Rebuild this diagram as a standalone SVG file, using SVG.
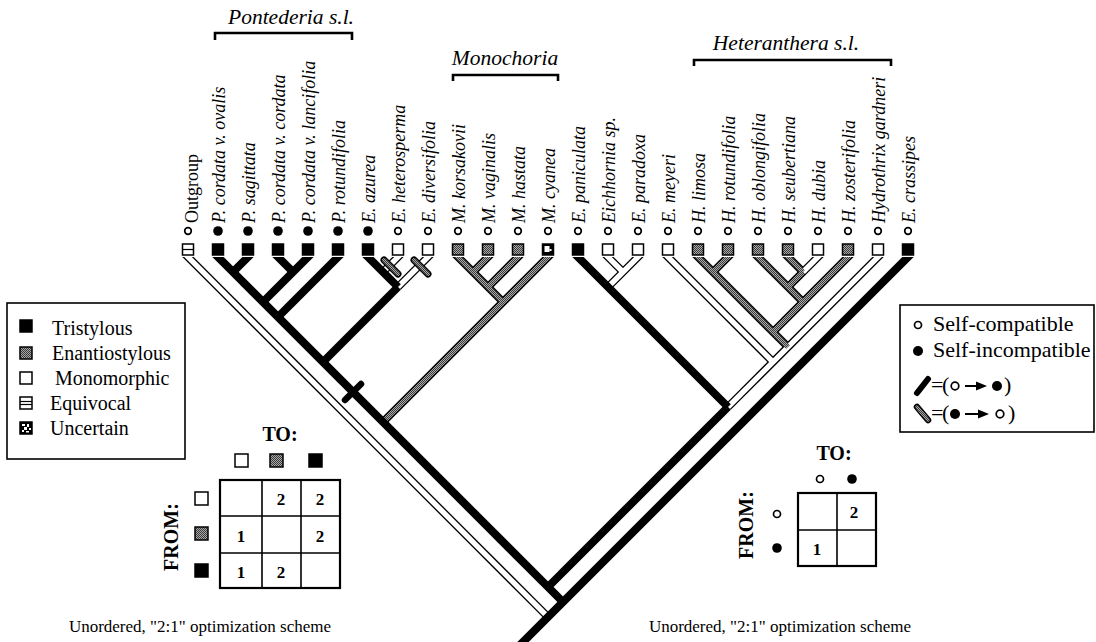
<svg xmlns="http://www.w3.org/2000/svg" width="1096" height="642" viewBox="0 0 1096 642">
<defs>
  <pattern id="stip" width="2" height="2" patternUnits="userSpaceOnUse">
    <rect width="2" height="2" fill="#a8a8a8"/>
    <rect width="1" height="1" fill="#3a3a3a"/>
    <rect x="1" y="1" width="1" height="1" fill="#3a3a3a"/>
  </pattern>
  <clipPath id="treeClip"><rect x="0" y="257" width="1096" height="385"/></clipPath>
</defs>
<style>
  text{font-family:"Liberation Serif","Times New Roman",serif;fill:#000}
  .tax{font-size:18px;font-style:italic}
  .rom{font-size:18px}
  .clade{font-size:21.5px;font-style:italic}
  .leg{font-size:20px}
  .leg2{font-size:22px}
  .hd{font-weight:bold;font-size:20px}
  .num{font-weight:bold;font-size:17px;text-anchor:middle}
  .cap{font-size:17px;text-anchor:middle}
  .bk{stroke:#000;stroke-width:8;fill:none}
  .ol{stroke:#000;stroke-width:8;fill:none}
  .wh{stroke:#fff;stroke-width:5.4;fill:none}
  .st{stroke:url(#stip);stroke-width:5.2;fill:none}
  .sq{stroke:#000;stroke-width:1.5}
  .w{fill:#fff}
  .b{fill:#000}
  .s{fill:url(#stip)}
  .oc{fill:#fff;stroke:#000;stroke-width:1.7}
  .fc{fill:#000}
  .box{fill:none;stroke:#000;stroke-width:1.6}
  .br{fill:none;stroke:#000;stroke-width:2.6}
  .grid{fill:none;stroke:#000;stroke-width:1.6}
</style>
<rect width="1096" height="642" fill="#fff"/>

<!-- clade brackets -->
<g id="clade-pontederia">
  <text class="clade" x="291" y="24" text-anchor="middle">Pontederia s.l.</text>
  <path class="br" d="M215,40 V33 H352 V40"/>
</g>
<g id="clade-monochoria">
  <text class="clade" x="505" y="65" text-anchor="middle">Monochoria</text>
  <path class="br" d="M453,81 V75 H558 V81"/>
</g>
<g id="clade-heteranthera">
  <text class="clade" x="786" y="50" text-anchor="middle">Heteranthera s.l.</text>
  <path class="br" d="M694,66 V60 H891 V66"/>
</g>

<!-- branches -->
<g id="connectors">
  <g clip-path="url(#treeClip)">
    <!-- outlines of open and stippled branches -->
    <g id="outlines">
      <line class="ol" x1="178" y1="247" x2="548" y2="617"/>
      <line class="ol" x1="408" y1="247" x2="383" y2="272"/>
      <line class="ol" x1="438" y1="247" x2="398" y2="287"/>
      <line class="ol" x1="598" y1="247" x2="623" y2="272"/>
      <line class="ol" x1="648" y1="247" x2="608" y2="287"/>
      <line class="ol" x1="658" y1="247" x2="773" y2="362"/>
      <line class="ol" x1="888" y1="247" x2="728" y2="407"/>
      <line class="ol" x1="828" y1="247" x2="788" y2="287"/>
      <line class="ol" x1="448" y1="247" x2="503" y2="302"/>
      <line class="ol" x1="498" y1="247" x2="473" y2="272"/>
      <line class="ol" x1="528" y1="247" x2="488" y2="287"/>
      <line class="ol" x1="558" y1="247" x2="383" y2="422"/>
      <line class="ol" x1="688" y1="247" x2="788" y2="347"/>
      <line class="ol" x1="738" y1="247" x2="713" y2="272"/>
      <line class="ol" x1="748" y1="247" x2="803" y2="302"/>
      <line class="ol" x1="778" y1="247" x2="803" y2="272"/>
      <line class="ol" x1="858" y1="247" x2="773" y2="332"/>
    </g>
    <!-- monomorphic interiors -->
    <g id="open-fill">
      <line class="wh" x1="178" y1="247" x2="548" y2="617"/>
      <line class="wh" x1="408" y1="247" x2="383" y2="272"/>
      <line class="wh" x1="438" y1="247" x2="398" y2="287"/>
      <line class="wh" x1="598" y1="247" x2="623" y2="272"/>
      <line class="wh" x1="648" y1="247" x2="608" y2="287"/>
      <line class="wh" x1="658" y1="247" x2="773" y2="362"/>
      <line class="wh" x1="888" y1="247" x2="728" y2="407"/>
      <line class="wh" x1="828" y1="247" x2="803" y2="272"/>
    </g>
    <!-- enantiostylous interiors -->
    <g id="stipple-fill">
      <line class="st" x1="448" y1="247" x2="503" y2="302"/>
      <line class="st" x1="498" y1="247" x2="473" y2="272"/>
      <line class="st" x1="528" y1="247" x2="488" y2="287"/>
      <line class="st" x1="558" y1="247" x2="383" y2="422"/>
      <line class="st" x1="688" y1="247" x2="788" y2="347"/>
      <line class="st" x1="738" y1="247" x2="713" y2="272"/>
      <line class="st" x1="748" y1="247" x2="803" y2="302"/>
      <line class="st" x1="778" y1="247" x2="803" y2="272"/>
      <line class="st" x1="803" y1="272" x2="788" y2="287"/>
      <line class="st" x1="858" y1="247" x2="773" y2="332"/>
    </g>
    <!-- tristylous branches -->
    <g id="solid">
      <line class="bk" x1="208" y1="247" x2="563" y2="602"/>
      <line class="bk" x1="258" y1="247" x2="233" y2="272"/>
      <line class="bk" x1="268" y1="247" x2="293" y2="272"/>
      <line class="bk" x1="318" y1="247" x2="263" y2="302"/>
      <line class="bk" x1="348" y1="247" x2="278" y2="317"/>
      <line class="bk" x1="358" y1="247" x2="398" y2="287"/>
      <line class="bk" x1="398" y1="287" x2="323" y2="362"/>
      <line class="bk" x1="568" y1="247" x2="728" y2="407"/>
      <line class="bk" x1="728" y1="407" x2="548" y2="587"/>
      <line class="bk" x1="918" y1="247" x2="518" y2="647"/>
    </g>
  </g>
  <!-- self-compatibility transitions -->
  <g id="transitions">
    <line x1="345" y1="400" x2="361" y2="384" stroke="#000" stroke-width="6.5" stroke-linecap="round"/>
    <line x1="384" y1="260" x2="398" y2="274" stroke="#000" stroke-width="7" stroke-linecap="round"/>
    <line x1="384" y1="260" x2="398" y2="274" stroke="url(#stip)" stroke-width="4" stroke-linecap="round"/>
    <line x1="414" y1="260" x2="428" y2="274" stroke="#000" stroke-width="7" stroke-linecap="round"/>
    <line x1="414" y1="260" x2="428" y2="274" stroke="url(#stip)" stroke-width="4" stroke-linecap="round"/>
  </g>
</g>

<!-- taxa -->
<g id="t-outgroup"><text class="rom" transform="translate(198,223) rotate(-90)">Outgroup</text><circle class="oc" cx="188" cy="231" r="3.3"/><rect class="sq w" x="182.5" y="244" width="11" height="11"/><line x1="182.5" y1="249.5" x2="193.5" y2="249.5" stroke="#000" stroke-width="1.2"/></g>
<g id="t-p-ovalis"><text class="tax" transform="translate(225,223) rotate(-90)">P. cordata v. ovalis</text><circle class="fc" cx="218" cy="231" r="4.8"/><rect class="sq b" x="212.5" y="244" width="11" height="11"/></g>
<g id="t-p-sagittata"><text class="tax" transform="translate(255,223) rotate(-90)">P. sagittata</text><circle class="fc" cx="248" cy="231" r="4.8"/><rect class="sq b" x="242.5" y="244" width="11" height="11"/></g>
<g id="t-p-cordata"><text class="tax" transform="translate(285,223) rotate(-90)">P. cordata v. cordata</text><circle class="fc" cx="278" cy="231" r="4.8"/><rect class="sq b" x="272.5" y="244" width="11" height="11"/></g>
<g id="t-p-lancifolia"><text class="tax" transform="translate(315,223) rotate(-90)">P. cordata v. lancifolia</text><circle class="fc" cx="308" cy="231" r="4.8"/><rect class="sq b" x="302.5" y="244" width="11" height="11"/></g>
<g id="t-p-rotundifolia"><text class="tax" transform="translate(345,223) rotate(-90)">P. rotundifolia</text><circle class="fc" cx="338" cy="231" r="4.8"/><rect class="sq b" x="332.5" y="244" width="11" height="11"/></g>
<g id="t-e-azurea"><text class="tax" transform="translate(375,223) rotate(-90)">E. azurea</text><circle class="fc" cx="368" cy="231" r="4.8"/><rect class="sq b" x="362.5" y="244" width="11" height="11"/></g>
<g id="t-e-heterosperma"><text class="tax" transform="translate(405,223) rotate(-90)">E. heterosperma</text><circle class="oc" cx="398" cy="231" r="3.3"/><rect class="sq w" x="392.5" y="244" width="11" height="11"/></g>
<g id="t-e-diversifolia"><text class="tax" transform="translate(435,223) rotate(-90)">E. diversifolia</text><circle class="oc" cx="428" cy="231" r="3.3"/><rect class="sq w" x="422.5" y="244" width="11" height="11"/></g>
<g id="t-m-korsakovii"><text class="tax" transform="translate(465,223) rotate(-90)">M. korsakovii</text><circle class="oc" cx="458" cy="231" r="3.3"/><rect class="sq s" x="452.5" y="244" width="11" height="11"/></g>
<g id="t-m-vaginalis"><text class="tax" transform="translate(495,223) rotate(-90)">M. vaginalis</text><circle class="oc" cx="488" cy="231" r="3.3"/><rect class="sq s" x="482.5" y="244" width="11" height="11"/></g>
<g id="t-m-hastata"><text class="tax" transform="translate(525,223) rotate(-90)">M. hastata</text><circle class="oc" cx="518" cy="231" r="3.3"/><rect class="sq s" x="512.5" y="244" width="11" height="11"/></g>
<g id="t-m-cyanea"><text class="tax" transform="translate(555,223) rotate(-90)">M. cyanea</text><circle class="oc" cx="548" cy="231" r="3.3"/><rect class="sq b" x="542.5" y="244" width="11" height="11"/><rect x="544.5" y="246" width="5" height="6" fill="#fff"/><rect x="549.5" y="249" width="2" height="2" fill="#fff"/></g>
<g id="t-e-paniculata"><text class="tax" transform="translate(585,223) rotate(-90)">E. paniculata</text><circle class="oc" cx="578" cy="231" r="3.3"/><rect class="sq b" x="572.5" y="244" width="11" height="11"/></g>
<g id="t-eichhornia-sp"><text class="tax" transform="translate(615,223) rotate(-90)">Eichhornia sp.</text><circle class="oc" cx="608" cy="231" r="3.3"/><rect class="sq w" x="602.5" y="244" width="11" height="11"/></g>
<g id="t-e-paradoxa"><text class="tax" transform="translate(645,223) rotate(-90)">E. paradoxa</text><circle class="oc" cx="638" cy="231" r="3.3"/><rect class="sq w" x="632.5" y="244" width="11" height="11"/></g>
<g id="t-e-meyeri"><text class="tax" transform="translate(675,223) rotate(-90)">E. meyeri</text><circle class="oc" cx="668" cy="231" r="3.3"/><rect class="sq w" x="662.5" y="244" width="11" height="11"/></g>
<g id="t-h-limosa"><text class="tax" transform="translate(705,223) rotate(-90)">H. limosa</text><circle class="oc" cx="698" cy="231" r="3.3"/><rect class="sq s" x="692.5" y="244" width="11" height="11"/></g>
<g id="t-h-rotundifolia"><text class="tax" transform="translate(735,223) rotate(-90)">H. rotundifolia</text><circle class="oc" cx="728" cy="231" r="3.3"/><rect class="sq s" x="722.5" y="244" width="11" height="11"/></g>
<g id="t-h-oblongifolia"><text class="tax" transform="translate(765,223) rotate(-90)">H. oblongifolia</text><circle class="oc" cx="758" cy="231" r="3.3"/><rect class="sq s" x="752.5" y="244" width="11" height="11"/></g>
<g id="t-h-seubertiana"><text class="tax" transform="translate(795,223) rotate(-90)">H. seubertiana</text><circle class="oc" cx="788" cy="231" r="3.3"/><rect class="sq s" x="782.5" y="244" width="11" height="11"/></g>
<g id="t-h-dubia"><text class="tax" transform="translate(825,223) rotate(-90)">H. dubia</text><circle class="oc" cx="818" cy="231" r="3.3"/><rect class="sq w" x="812.5" y="244" width="11" height="11"/></g>
<g id="t-h-zosterifolia"><text class="tax" transform="translate(855,223) rotate(-90)">H. zosterifolia</text><circle class="oc" cx="848" cy="231" r="3.3"/><rect class="sq s" x="842.5" y="244" width="11" height="11"/></g>
<g id="t-hydrothrix"><text class="tax" transform="translate(885,223) rotate(-90)">Hydrothrix gardneri</text><circle class="oc" cx="878" cy="231" r="3.3"/><rect class="sq w" x="872.5" y="244" width="11" height="11"/></g>
<g id="t-e-crassipes"><text class="tax" transform="translate(915,223) rotate(-90)">E. crassipes</text><circle class="oc" cx="908" cy="231" r="3.3"/><rect class="sq b" x="902.5" y="244" width="11" height="11"/></g>

<!-- floral morph legend -->
<g id="legend-morph">
  <rect class="box" x="7" y="303" width="178" height="156"/>
  <rect class="sq b" x="20" y="320" width="12" height="12"/>
  <text class="leg" x="52" y="335">Tristylous</text>
  <rect class="sq s" x="20" y="347" width="12" height="12"/>
  <text class="leg" x="52" y="360">Enantiostylous</text>
  <rect class="sq w" x="20" y="372" width="12" height="12"/>
  <text class="leg" x="55" y="385">Monomorphic</text>
  <rect class="sq w" x="20" y="397" width="12" height="12"/>
  <line x1="20" y1="401.5" x2="32" y2="401.5" stroke="#000" stroke-width="1.2"/>
  <line x1="20" y1="404.5" x2="32" y2="404.5" stroke="#000" stroke-width="1.2"/>
  <text class="leg" x="50" y="410">Equivocal</text>
  <rect class="sq b" x="20" y="422" width="12" height="12"/>
  <g fill="#fff">
    <rect x="22" y="424" width="3" height="2"/><rect x="27" y="424" width="2" height="3"/>
    <rect x="24" y="427" width="3" height="3"/><rect x="29" y="428" width="2" height="2"/>
    <rect x="22" y="430" width="2" height="2"/><rect x="26" y="431" width="3" height="1.5"/>
  </g>
  <text class="leg" x="50" y="435">Uncertain</text>
</g>

<!-- compatibility legend -->
<g id="legend-compat">
  <rect class="box" x="900" y="305" width="194" height="127"/>
  <circle class="oc" cx="918" cy="325" r="3.5"/>
  <text class="leg2" x="933" y="331">Self-compatible</text>
  <circle class="fc" cx="918" cy="351" r="5"/>
  <text class="leg2" x="933" y="357">Self-incompatible</text>
  <line x1="917" y1="393" x2="928" y2="379" stroke="#000" stroke-width="6" stroke-linecap="round"/>
  <text class="leg2" x="931" y="392">=</text>
  <text class="leg2" x="942" y="392">(</text>
  <circle class="oc" cx="955" cy="386" r="3.8"/>
  <line x1="965" y1="386" x2="978" y2="386" stroke="#000" stroke-width="2"/>
  <polygon points="976,381.5 987,386 976,390.5" fill="#000"/>
  <circle class="fc" cx="997" cy="386" r="5"/>
  <text class="leg2" x="1004" y="392">)</text>
  <line x1="917" y1="407" x2="928" y2="420" stroke="#000" stroke-width="6.5" stroke-linecap="round"/>
  <line x1="917" y1="407" x2="928" y2="420" stroke="url(#stip)" stroke-width="3.5" stroke-linecap="round"/>
  <text class="leg2" x="931" y="420">=</text>
  <text class="leg2" x="942" y="420">(</text>
  <circle class="fc" cx="955" cy="414" r="5"/>
  <line x1="965" y1="414" x2="980" y2="414" stroke="#000" stroke-width="2"/>
  <polygon points="978,409.5 989,414 978,418.5" fill="#000"/>
  <circle class="oc" cx="1000" cy="414" r="3.8"/>
  <text class="leg2" x="1008" y="420">)</text>
</g>

<!-- morph step matrix -->
<g id="matrix-morph">
  <text class="hd" x="280" y="441" text-anchor="middle">TO:</text>
  <rect class="sq w" x="235" y="454" width="13" height="13"/>
  <rect class="sq s" x="270" y="454" width="13" height="13"/>
  <rect class="sq b" x="309" y="454" width="13" height="13"/>
  <text class="hd" font-size="21" transform="translate(178,537) rotate(-90)" text-anchor="middle">FROM:</text>
  <rect class="sq w" x="195" y="492" width="13" height="13"/>
  <rect class="sq s" x="195" y="527" width="13" height="13"/>
  <rect class="sq b" x="195" y="564" width="13" height="13"/>
  <rect x="220" y="480" width="120" height="108" fill="none" stroke="#000" stroke-width="2.2"/>
  <path class="grid" d="M262,480 V588 M301,480 V588 M220,516 H340 M220,553 H340"/>
  <text class="num" x="281" y="505">2</text>
  <text class="num" x="320" y="505">2</text>
  <text class="num" x="241" y="542">1</text>
  <text class="num" x="320" y="542">2</text>
  <text class="num" x="241" y="578">1</text>
  <text class="num" x="281" y="578">2</text>
  <text class="cap" x="200" y="632">Unordered, "2:1" optimization scheme</text>
</g>

<!-- compatibility step matrix -->
<g id="matrix-compat">
  <text class="hd" x="834" y="460" text-anchor="middle">TO:</text>
  <circle class="oc" cx="820" cy="479" r="3.5"/>
  <circle class="fc" cx="852" cy="479" r="4.8"/>
  <text class="hd" font-size="21" transform="translate(753,525) rotate(-90)" text-anchor="middle">FROM:</text>
  <circle class="oc" cx="777" cy="514" r="3.5"/>
  <circle class="fc" cx="777" cy="548" r="4.8"/>
  <rect x="798" y="493" width="78" height="73" fill="none" stroke="#000" stroke-width="2.2"/>
  <path class="grid" d="M837,493 V566 M798,530 H876"/>
  <text class="num" x="854" y="518">2</text>
  <text class="num" x="817" y="555">1</text>
  <text class="cap" x="780" y="632">Unordered, "2:1" optimization scheme</text>
</g>
</svg>
